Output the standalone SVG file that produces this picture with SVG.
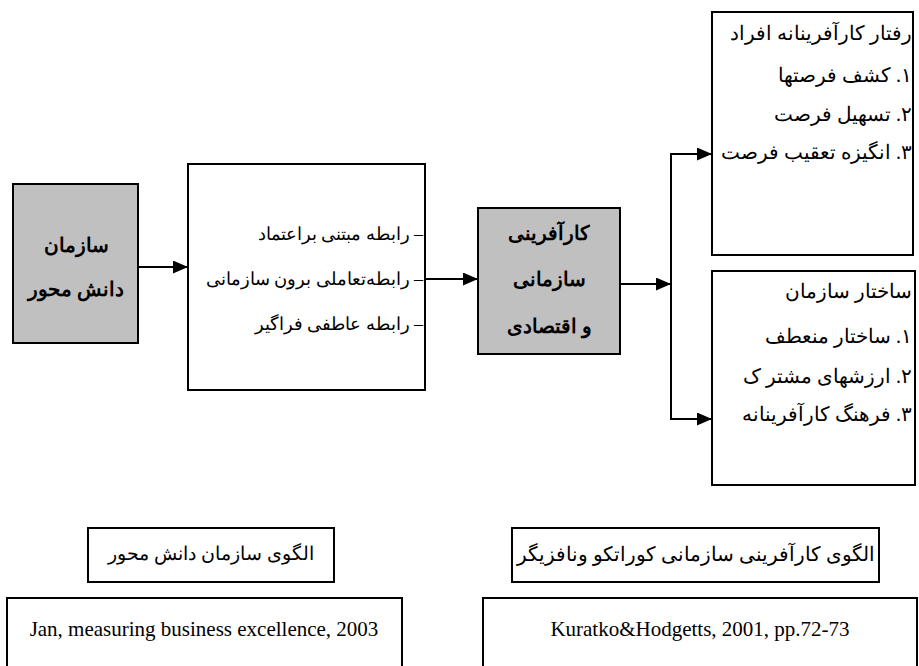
<svg xmlns="http://www.w3.org/2000/svg" width="919" height="666" viewBox="0 0 919 666">
<defs>
<marker id="ah" viewBox="0 0 15 13" refX="15" refY="6.5" markerWidth="15" markerHeight="13" markerUnits="userSpaceOnUse" orient="auto">
<path d="M0,0 L15,6.5 L0,13 Z" fill="#000"/>
</marker>
<style>
.box{fill:#fff;stroke:#000;stroke-width:2}
.gray{fill:#c0c0c0;stroke:#000;stroke-width:2}
.fa{font-family:"Liberation Serif",serif;font-size:20px;fill:#000}
.fam{font-family:"Liberation Serif",serif;font-size:18px;fill:#000}
.fab{font-family:"Liberation Serif",serif;font-size:20px;font-weight:bold;fill:#000}
.en{font-family:"Liberation Serif",serif;font-size:21px;fill:#000}
.rtl{direction:rtl;unicode-bidi:embed}
.con{stroke:#000;stroke-width:2;fill:none}
</style>
</defs>
<rect width="919" height="666" fill="#fff"/>
<g id="connectors">
<line class="con" x1="138" y1="267" x2="188" y2="267" marker-end="url(#ah)"/>
<line class="con" x1="425" y1="279" x2="478" y2="279" marker-end="url(#ah)"/>
<line class="con" x1="620" y1="284" x2="671" y2="284" marker-end="url(#ah)"/>
<line class="con" x1="671" y1="153" x2="671" y2="420"/>
<line class="con" x1="670" y1="154" x2="712" y2="154" marker-end="url(#ah)"/>
<line class="con" x1="670" y1="419" x2="712" y2="419" marker-end="url(#ah)"/>
</g>
<g id="n1">
<rect class="gray" x="13" y="184" width="125" height="159"/>
<text class="fab rtl" x="76" y="252" text-anchor="middle">سازمان</text>
<text class="fab rtl" x="76" y="296" text-anchor="middle">دانش محور</text>
</g>
<g id="n2">
<rect class="box" x="188" y="164" width="237" height="226"/>
<text class="fam rtl" x="423" y="240" text-anchor="start">– رابطه مبتنی براعتماد</text>
<text class="fam rtl" x="423" y="285" text-anchor="start">– رابطه‌تعاملی برون سازمانی</text>
<text class="fam rtl" x="423" y="330" text-anchor="start">– رابطه عاطفی فراگیر</text>
</g>
<g id="n3">
<rect class="gray" x="478" y="208" width="142" height="146"/>
<text class="fab rtl" x="549" y="240" text-anchor="middle">کارآفرینی</text>
<text class="fab rtl" x="549" y="286" text-anchor="middle">سازمانی</text>
<text class="fab rtl" x="549" y="333" text-anchor="middle">و اقتصادی</text>
</g>
<g id="n4">
<rect class="box" x="712" y="12" width="201" height="243"/>
<text class="fa rtl" x="912" y="40" text-anchor="start">رفتار کارآفرینانه افراد</text>
<text class="fa rtl" x="912" y="82" text-anchor="start">۱.  کشف فرصتها</text>
<text class="fa rtl" x="912" y="121" text-anchor="start">۲. تسهیل فرصت</text>
<text class="fa rtl" x="912" y="159" text-anchor="start">۳. انگیزه  تعقیب فرصت</text>
</g>
<g id="n5">
<rect class="box" x="712" y="271" width="203" height="214"/>
<text class="fa rtl" x="912" y="298" text-anchor="start">ساختار سازمان</text>
<text class="fa rtl" x="912" y="343" text-anchor="start">۱. ساختار منعطف</text>
<text class="fa rtl" x="912" y="383" text-anchor="start">۲. ارزشهای مشتر ک</text>
<text class="fa rtl" x="912" y="421" text-anchor="start">۳. فرهنگ کارآفرینانه</text>
</g>
<g id="n6">
<rect class="box" x="88" y="528" width="246" height="54"/>
<text class="fa rtl" x="211" y="560" text-anchor="middle" style="font-size:19px">الگوی سازمان دانش محور</text>
</g>
<g id="n7">
<rect class="box" x="7" y="598" width="395" height="90"/>
<text class="en" x="204" y="636" text-anchor="middle">Jan, measuring business excellence, 2003</text>
</g>
<g id="n8">
<rect class="box" x="512" y="528" width="367" height="54"/>
<text class="fa rtl" x="696" y="561" text-anchor="middle">الگوی کارآفرینی سازمانی کوراتکو ونافزیگر</text>
</g>
<g id="n9">
<rect class="box" x="483" y="598" width="434" height="90"/>
<text class="en" x="700" y="636" text-anchor="middle">Kuratko&amp;Hodgetts, 2001, pp.72-73</text>
</g>
</svg>
